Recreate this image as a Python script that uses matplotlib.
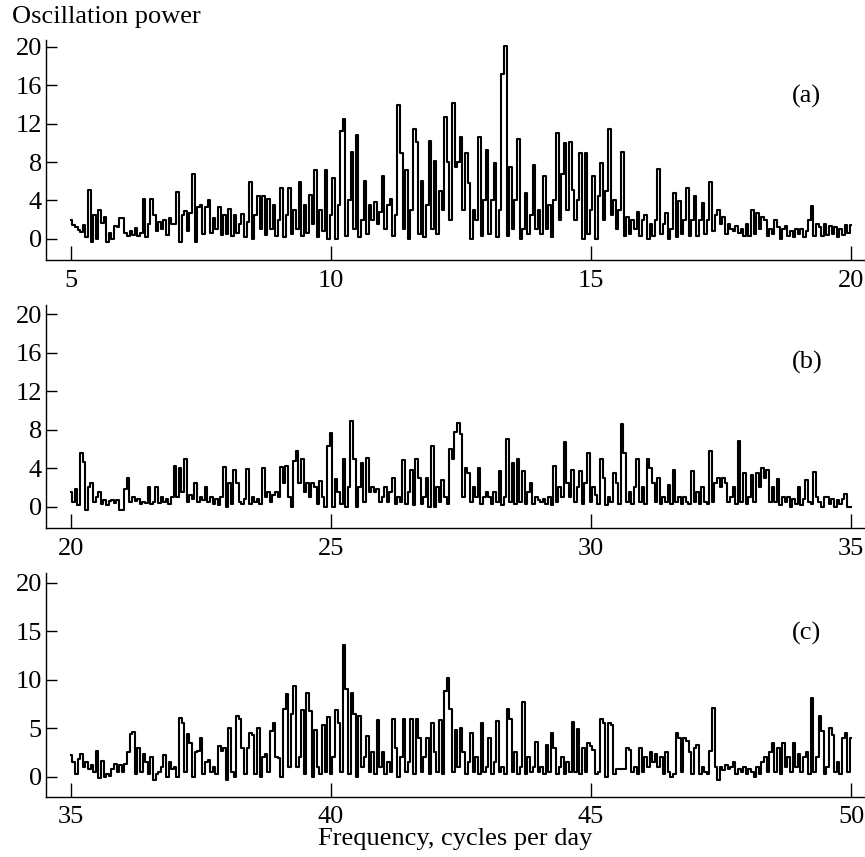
import numpy as np
import matplotlib
matplotlib.use("Agg")
import matplotlib.pyplot as plt

plt.rcParams['font.family'] = ['Liberation Serif', 'DejaVu Serif']

STEP = 0.05

# Panel (a): 5-20 cycles/day, 20 samples per unit
power_a = [
    2.0, 1.4, 1.2, 0.9, 0.7, 1.4, 0.2, 5.1, -0.3, 2.5, 0.0, 3.0, 1.6, 2.3, -0.3, 0.6, 0.0, 1.3, 1.2, 2.2,
    2.2, 0.6, 0.3, 0.8, 0.4, 1.1, 0.3, 0.6, 4.1, 0.2, 1.5, 4.1, 2.5, 0.8, 1.8, 1.0, 2.0, 0.4, 2.2, 1.5,
    1.5, 4.9, -0.3, 2.5, 2.9, 0.8, 2.7, 6.7, -0.3, 3.3, 3.5, 0.5, 3.3, 4.0, 0.6, 2.2, 1.0, 3.3, 0.4, 2.5,
    0.5, 3.1, 0.3, 2.5, 0.6, 1.5, 2.6, 0.2, 1.8, 5.9, 0.0, 2.5, 4.5, 1.0, 4.5, 0.4, 4.1, 1.0, 3.5, 0.3,
    2.0, 5.3, 0.2, 2.5, 5.3, 0.5, 3.0, 1.0, 5.9, 0.3, 3.5, 0.6, 4.6, 1.5, 7.2, 0.2, 3.0, 0.8, 7.2, 0.0,
    2.5, 6.3, 0.0, 3.5, 11.2, 12.5, 0.3, 4.0, 9.0, 1.0, 10.8, 0.2, 2.0, 6.0, 0.5, 3.5, 2.0, 3.8, 1.5, 2.8,
    6.5, 1.0, 3.5, 4.2, 0.3, 2.5, 13.9, 8.9, 1.0, 7.2, 0.0, 3.0, 11.4, 10.1, 0.5, 6.0, 0.2, 3.5, 10.2, 1.0,
    8.1, 0.5, 5.0, 3.0, 12.7, 8.0, 2.0, 14.1, 7.5, 8.0, 10.6, 3.0, 8.9, 5.8, 0.0, 3.0, 2.0, 10.6, 0.3, 4.0,
    9.3, 0.5, 4.0, 7.9, 0.2, 3.0, 17.2, 20.1, 0.3, 7.5, 1.0, 4.0, 10.4, 0.0, 1.0, 4.8, 0.5, 2.5, 7.7, 1.0,
    3.0, 0.5, 6.5, 1.0, 3.5, 0.2, 4.0, 11.0, 2.0, 6.8, 10.0, 3.0, 10.1, 5.1, 2.0, 4.0, 8.9, 0.0, 8.9, 0.5,
    3.0, 6.5, 0.0, 4.5, 7.9, 2.0, 5.0, 11.4, 2.5, 4.0, 1.0, 3.0, 9.0, 0.3, 2.3, 0.5, 2.0, 1.0, 2.8, 0.3,
    2.0, 2.5, 0.0, 1.5, 0.3, 2.0, 7.3, 0.5, 1.5, 2.7, 0.0, 1.0, 4.8, 0.2, 3.9, 0.5, 2.0, 5.3, 0.3, 2.0,
    4.5, 0.3, 2.0, 3.7, 0.5, 2.0, 5.9, 0.8, 2.5, 3.0, 1.5, 2.3, 0.5, 1.5, 1.0, 0.8, 1.3, 0.6, 1.0, 0.3,
    1.5, 0.3, 3.0, 0.5, 2.7, 1.0, 2.3, 2.0, 0.3, 1.0, 0.5, 2.0, 1.2, 0.0, 1.0, 1.3, 0.3, 0.8, 0.2, 1.0,
    0.5, 1.0, 0.2, 0.8, 2.0, 3.4, 0.3, 1.5, 1.2, 0.3, 1.5, 0.4, 1.3, 0.5, 1.2, 0.2, 1.0, 0.4, 1.4, 0.6,
    1.4,
]

# Panel (b): 20-35 cycles/day
power_b = [
    1.5, 0.5, 1.8, 0.2, 5.6, 4.6, -0.3, 2.0, 2.5, 0.5, 1.0, 1.5, 0.3, 0.7, 0.2, 0.6, 0.7, 0.4, 0.7, -0.3,
    -0.3, 1.8, 3.0, 0.5, 1.0, 0.6, 0.8, 0.3, 0.5, 0.4, 2.0, 0.3, 0.5, 2.0, 0.4, 1.0, 0.5, 0.8, 0.3, 1.0,
    4.2, 1.0, 4.0, 1.5, 5.0, 0.5, 1.2, 0.8, 2.5, 0.5, 1.0, 0.7, 2.0, 0.5, 1.0, 0.3, 0.8, 0.2, 1.0, 4.1,
    0.0, 2.5, 0.3, 3.8, 2.5, 0.5, 0.3, 0.8, 3.9, 0.3, 1.0, 0.5, 0.8, 0.3, 4.0, 1.0, 1.5, 0.5, 1.2, 1.5,
    1.0, 4.1, 2.5, 4.2, 1.0, 0.0, 4.7, 5.8, 2.5, 4.9, 1.5, 2.5, 1.0, 2.5, 2.0, 0.3, 2.7, 1.0, 0.0, 6.3,
    7.6, 0.0, 2.9, 1.5, 0.3, 5.0, 0.0, 2.0, 8.9, 5.0, 0.0, 2.0, 4.5, 0.5, 5.1, 1.5, 2.0, 1.5, 1.8, 0.5,
    1.0, 2.0, 0.5, 1.5, 3.0, 0.3, 1.0, 0.5, 4.8, 0.3, 1.5, 3.8, 0.2, 5.0, 3.0, 0.3, 1.0, 3.0, 0.0, 6.3,
    0.0, 2.0, 0.5, 2.8, 1.0, 0.3, 6.0, 5.0, 7.8, 8.7, 7.5, 1.0, 4.0, 3.5, 0.5, 2.0, 1.0, 4.0, 0.3, 1.0,
    1.5, 1.0, 0.3, 1.5, 0.5, 3.7, 0.2, 1.0, 7.0, 0.5, 4.5, 0.3, 5.0, 0.5, 3.7, 0.3, 1.5, 2.5, 0.3, 1.0,
    0.7, 0.5, 0.8, 0.3, 1.0, 0.2, 4.2, 0.5, 2.0, 1.0, 6.7, 2.5, 1.0, 3.8, 0.5, 2.0, 3.7, 0.3, 2.5, 5.6,
    0.5, 2.0, 1.2, 0.3, 5.0, 3.0, 0.2, 1.0, 0.5, 3.5, 2.5, 0.3, 8.6, 5.6, 0.5, 1.5, 0.3, 2.0, 5.0, 0.5,
    2.0, 0.3, 4.9, 4.0, 2.5, 0.5, 3.0, 0.3, 1.0, 0.5, 2.3, 0.3, 3.8, 0.5, 1.0, 0.3, 1.0, 0.5, 0.3, 3.7,
    0.5, 1.5, 0.3, 2.0, 0.5, 0.3, 5.8, 0.5, 2.5, 3.0, 2.0, 3.0, 2.5, 0.5, 1.0, 2.0, 0.3, 6.8, 0.5, 3.5,
    0.3, 1.0, 3.3, 0.5, 3.5, 2.0, 4.0, 3.0, 3.8, 0.5, 2.0, 0.5, 2.9, 0.2, 1.0, 0.5, 1.0, 0.0, 0.8, 0.3,
    2.0, 0.2, 0.8, 2.8, 0.5, 0.3, 3.6, 1.0, 0.5, 0.0, 1.0, 1.0, 0.3, 0.8, 0.0, 0.7, 0.3, 0.8, 1.3, 0.0,
    0.0,
]

# Panel (c): 35-50 cycles/day
power_c = [
    2.2, 1.5, 0.3, 1.8, 2.3, 1.0, 1.5, 0.8, 1.2, 0.5, 2.6, -0.1, 1.6, 0.0, 0.3, 0.1, 0.8, 1.3, 0.5, 1.2,
    0.5, 1.3, 2.5, 4.4, 4.6, 0.3, 3.0, 0.5, 2.3, 1.5, 0.3, 2.0, -0.3, 0.3, 0.5, 1.0, 2.2, 0.0, 1.5, 0.8,
    1.0, 0.0, 6.1, 5.5, 0.5, 4.4, 3.5, 0.0, 2.5, 2.7, 4.0, 0.3, 1.5, 1.7, 0.5, 1.0, 0.3, 3.2, 2.7, 3.0,
    -0.3, 5.0, 0.5, 0.0, 6.3, 5.9, 3.0, 0.3, 3.0, 4.5, 4.3, 0.3, 5.0, 0.0, 2.0, 2.3, 0.5, 4.7, 5.5, 2.0,
    1.9, 0.0, 7.0, 8.5, 1.0, 6.5, 9.3, 1.0, 2.0, 6.9, 0.3, 8.6, 6.8, 0.0, 4.8, 1.0, 0.3, 5.3, 0.5, 6.2,
    0.3, 2.0, 6.9, 5.5, 0.5, 13.6, 9.0, 0.3, 8.6, 6.5, 0.0, 6.3, 1.0, 2.0, 4.2, 0.5, 2.5, 0.3, 5.8, 1.0,
    2.5, 0.3, 1.5, 0.5, 6.0, 3.0, 0.0, 2.0, 6.0, 0.5, 1.5, 6.0, 0.3, 6.0, 4.0, 0.5, 2.0, 4.0, 0.3, 5.5,
    2.5, 0.5, 5.8, 0.3, 8.8, 10.2, 7.0, 0.5, 4.8, 1.0, 5.0, 2.5, 0.3, 1.5, 4.5, 0.5, 2.0, 0.3, 5.5, 0.5,
    1.0, 4.0, 0.3, 1.5, 5.7, 0.5, 1.0, 0.3, 7.0, 6.0, 0.5, 2.5, 0.3, 1.0, 7.7, 0.3, 2.0, 0.5, 1.0, 3.6,
    0.5, 1.0, 0.3, 3.3, 0.5, 4.5, 3.0, 0.3, 1.0, 2.0, 0.3, 1.5, 0.5, 5.6, 0.5, 4.9, 0.3, 3.0, 0.5, 3.5,
    3.2, 2.8, 0.3, 0.5, 6.0, 5.5, 0.0, 5.5, 5.3, 0.3, 0.8, 0.8, 0.8, 0.8, 3.0, 2.8, 0.5, 1.0, 0.3, 3.0,
    0.5, 2.0, 1.0, 2.5, 1.5, 2.3, 1.0, 2.0, 0.3, 2.5, 0.5, 0.0, 0.3, 4.5, 4.0, 0.5, 4.0, 3.7, 2.5, 0.3,
    3.0, 3.3, 0.3, 1.0, 0.5, 0.3, 2.7, 7.1, 1.0, -0.3, 1.0, 0.7, 1.2, 0.8, 1.0, 1.5, 0.3, 0.8, 0.5, 1.0,
    0.3, 0.8, 0.5, 0.0, 1.0, 0.3, 1.5, 2.0, 0.5, 2.5, 3.5, 0.5, 3.0, 0.3, 3.5, 1.0, 2.0, 0.5, 3.5, 1.0,
    2.3, 0.5, 2.0, 2.5, 0.3, 8.1, 0.5, 2.0, 6.3, 4.7, 0.3, 1.0, 5.0, 4.3, 0.5, 1.5, 0.3, 4.0, 4.5, 0.5,
    4.0,
]

starts = [5.0, 20.0, 35.0]
series = [power_a, power_b, power_c]
panel_labels = ['(a)', '(b)', '(c)']
xticks = [[5, 10, 15, 20], [20, 25, 30, 35], [35, 40, 45, 50]]
yticks = [[0, 4, 8, 12, 16, 20], [0, 4, 8, 12, 16, 20], [0, 5, 10, 15, 20]]
ylims = [(-2.2, 20.7), (-2.25, 20.95), (-2.06, 21.03)]
label_y = [14.8, 15.0, 14.8]

FS = 19

W, H = 865, 857
fig = plt.figure(figsize=(W / 100, H / 100), dpi=100)

# axes boxes in pixels: (left, top, right, bottom)
boxes = [(46, 40, 865, 260), (46, 305, 865, 528.3), (46, 572.7, 865, 796.7)]

for i in range(3):
    l, t, r, b = boxes[i]
    ax = fig.add_axes([l / W, (H - b) / H, (r - l) / W, (b - t) / H])
    vals = np.array(series[i])
    freq = starts[i] + STEP * np.arange(len(vals))
    ax.plot(freq, vals, color='black', lw=1.5, drawstyle='steps-mid')
    lo = starts[i] - 25 / 52
    ax.set_xlim(lo, lo + (r - l) / 52)
    ax.set_ylim(*ylims[i])
    ax.set_xticks(xticks[i])
    ax.set_yticks(yticks[i])
    ax.spines['top'].set_visible(False)
    ax.spines['right'].set_visible(False)
    for s in ['left', 'bottom']:
        ax.spines[s].set_linewidth(1.0)
    ax.tick_params(axis='x', direction='in', length=10, width=1.0, labelsize=FS, pad=7)
    ax.tick_params(axis='y', direction='in', length=8, width=1.0, labelsize=FS, pad=3)
    ax.text(19.15 + (starts[i] - 5.0), label_y[i], panel_labels[i], fontsize=FS,
            ha='center', va='center')
    if i == 2:
        ax.set_xlabel('Frequency, cycles per day', fontsize=FS, labelpad=0)

fig.text(12 / W, 1 - 23 / H, 'Oscillation power', fontsize=FS, ha='left', va='baseline')

fig.savefig('out.png', dpi=100)
